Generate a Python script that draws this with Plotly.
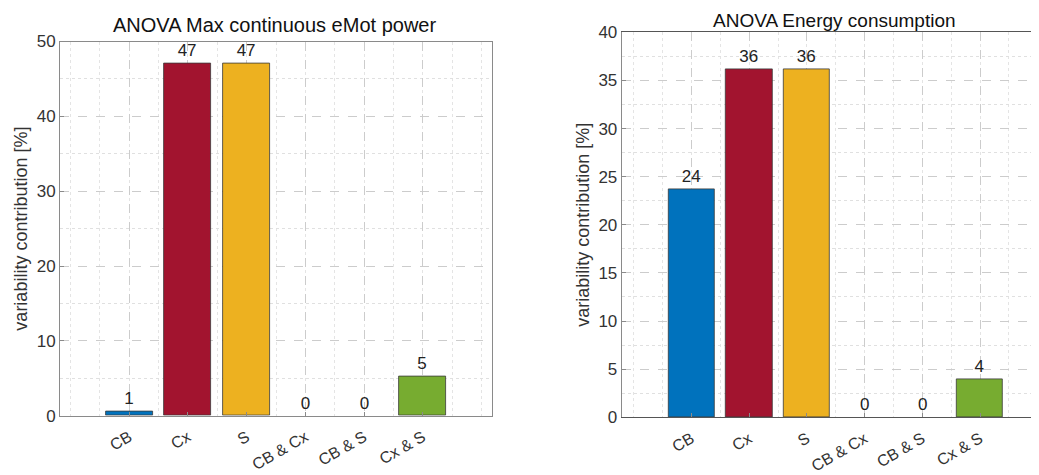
import plotly.graph_objects as go

categories = ["CB", "Cx", "S", "CB & Cx", "CB & S", "Cx & S"]
bar_colors = ["#0072BD", "#A2142F", "#EDB120", "#0072BD", "#0072BD", "#77AC30"]
power_values = [0.55, 47.1, 47.1, 0.0, 0.0, 5.2]
energy_values = [23.7, 36.2, 36.2, 0.0, 0.0, 4.0]
power_title = "ANOVA Max continuous eMot power"
energy_title = "ANOVA Energy consumption"
y_title = "variability contribution [%]"

W, H = 1039, 475
OFF = 8  # page body margin offset
positions = list(range(1, len(categories) + 1))

font_family = "Liberation Sans, Arial, sans-serif"
tick_col = "#333333"

fig = go.Figure()

for vals, xa, ya in [(power_values, "x", "y"), (energy_values, "x2", "y2")]:
    fig.add_trace(go.Bar(
        x=positions, y=vals, width=0.8,
        marker=dict(color=bar_colors,
                    line=dict(color="#3a3a3a", width=[0.8 if v > 0 else 0 for v in vals])),
        text=[f"{v:.0f}" for v in vals], textposition="outside",
        textfont=dict(size=17, color="#222222", family=font_family),
        cliponaxis=False, xaxis=xa, yaxis=ya, showlegend=False,
    ))

def px_x(p):
    return (p - OFF) / W

def px_y(p):
    return 1 - (p - OFF) / H

common_x = dict(
    tickmode="array", tickvals=positions, ticktext=categories, tickangle=-30,
    tickfont=dict(size=16, color=tick_col, family=font_family),
    showgrid=True, gridcolor="#cccccc", griddash="dash", gridwidth=1,
    minor=dict(dtick=0.5, showgrid=True, gridcolor="#e4e4e4", griddash="dot", ticklen=0),
    showline=True, linecolor="#8a8a8a", linewidth=1,
    ticks="inside", ticklen=4, tickcolor="#8a8a8a", zeroline=False,
    automargin=False, ticklabelstandoff=5,
)
common_y = dict(
    tickfont=dict(size=17, color=tick_col, family=font_family),
    showgrid=True, gridcolor="#cccccc", griddash="dash", gridwidth=1,
    showline=True, linecolor="#8a8a8a", linewidth=1,
    ticks="inside", ticklen=4, tickcolor="#8a8a8a", zeroline=False,
    automargin=False,
    title=dict(text=y_title, font=dict(size=18, color=tick_col, family=font_family), standoff=4),
)

fig.update_layout(
    width=W, height=H, margin=dict(l=0, r=0, t=0, b=0),
    plot_bgcolor="white", paper_bgcolor="white", bargap=0,
    xaxis=dict(common_x, domain=[px_x(60), px_x(492)], range=[-0.18, 7.18], anchor="y", mirror=True),
    yaxis=dict(common_y, domain=[px_y(415.7), px_y(41.5)], range=[0, 50], dtick=10, anchor="x", mirror=True,
               minor=dict(dtick=5, showgrid=True, gridcolor="#e0e0e0", griddash="dot", ticklen=0)),
    xaxis2=dict(common_x, domain=[px_x(621.7), 1.0], range=[-0.21, 7.16], anchor="y2", mirror=True,
                linecolor="#555555"),
    yaxis2=dict(common_y, domain=[px_y(417.3), px_y(32.3)], range=[0, 40], dtick=5, anchor="x2", mirror=False,
                minor=dict(dtick=2.5, showgrid=True, gridcolor="#e0e0e0", griddash="dot", ticklen=0)),
    annotations=[
        dict(text=power_title, x=px_x(274), y=px_y(25), xref="paper", yref="paper",
             xanchor="center", yanchor="middle",
             showarrow=False, font=dict(size=20, color="#111111", family=font_family)),
        dict(text=energy_title, x=px_x(834), y=px_y(20), xref="paper", yref="paper",
             xanchor="center", yanchor="middle",
             showarrow=False, font=dict(size=19, color="#111111", family=font_family)),
    ],
)

fig.write_html("out.html")
